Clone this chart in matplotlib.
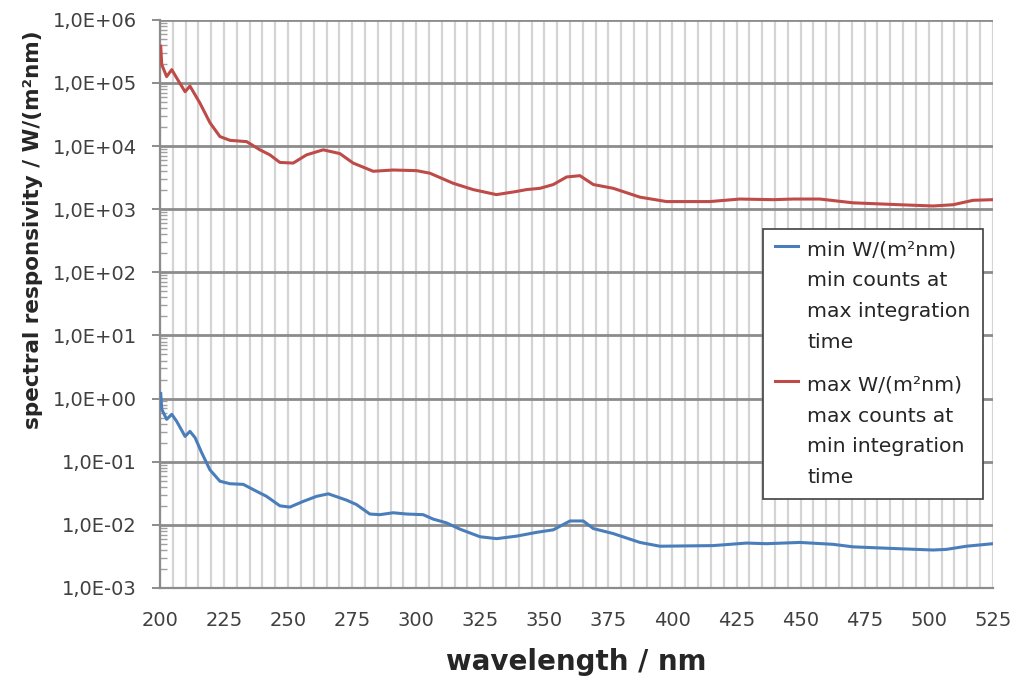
import numpy as np
import matplotlib
matplotlib.use("Agg")
import matplotlib.pyplot as plt
from matplotlib.ticker import FixedLocator, LogLocator, NullFormatter, FuncFormatter
from matplotlib.legend_handler import HandlerLine2D

# ---- data ----
wl_max = [200.3, 200.7, 202.6, 204.6, 206.5, 209.8, 211.7, 213.0, 215.6, 219.5,
          223.4, 227.3, 233.8, 239.0, 242.9, 246.8, 252.0, 257.2, 263.7, 270.2,
          275.4, 283.2, 291.0, 300.1, 305.3, 314.4, 322.2, 331.3, 339.1, 343.1,
          348.3, 353.5, 358.7, 363.9, 369.1, 376.9, 387.3, 397.7, 414.6, 426.3,
          439.3, 447.1, 457.5, 470.5, 488.7, 501.7, 509.5, 517.3, 525.0]
log_max = [5.58, 5.29, 5.10, 5.21, 5.08, 4.86, 4.95, 4.86, 4.68, 4.37,
           4.15, 4.09, 4.07, 3.94, 3.86, 3.74, 3.73, 3.86, 3.94, 3.88,
           3.73, 3.60, 3.62, 3.61, 3.57, 3.41, 3.31, 3.23, 3.28, 3.31,
           3.33, 3.39, 3.51, 3.53, 3.39, 3.33, 3.19, 3.12, 3.12, 3.16,
           3.15, 3.16, 3.16, 3.10, 3.07, 3.05, 3.07, 3.14, 3.15]

wl_min = [200.3, 200.7, 202.6, 204.6, 206.5, 209.8, 211.7, 213.7, 216.3, 219.5,
          223.4, 227.3, 232.5, 237.7, 241.6, 246.8, 250.7, 255.9, 261.1, 265.7,
          272.8, 276.7, 281.9, 285.8, 291.0, 296.3, 302.7, 306.6, 311.8, 317.1,
          324.9, 331.4, 339.2, 347.0, 353.5, 360.0, 365.2, 369.1, 376.9, 387.3,
          395.1, 415.9, 428.9, 436.7, 449.7, 462.7, 470.5, 488.7, 501.7, 506.9,
          514.7, 525.0]
log_min = [0.08, -0.17, -0.33, -0.25, -0.36, -0.60, -0.52, -0.62, -0.86, -1.13,
           -1.31, -1.35, -1.36, -1.47, -1.55, -1.70, -1.72, -1.63, -1.55, -1.51,
           -1.61, -1.68, -1.83, -1.84, -1.81, -1.83, -1.84, -1.91, -1.97, -2.07,
           -2.19, -2.22, -2.18, -2.12, -2.08, -1.94, -1.94, -2.06, -2.14, -2.28,
           -2.34, -2.33, -2.29, -2.30, -2.28, -2.31, -2.35, -2.38, -2.40, -2.39,
           -2.34, -2.30]

y_ticks = [1e-3, 1e-2, 1e-1, 1e0, 1e1, 1e2, 1e3, 1e4, 1e5, 1e6]
x_ticks = [200, 225, 250, 275, 300, 325, 350, 375, 400, 425, 450, 475, 500, 525]

label_min = "min W/(m\u00b2nm)\nmin counts at\nmax integration\ntime"
label_max = "max W/(m\u00b2nm)\nmax counts at\nmin integration\ntime"

LEG_FS = 14.7
LEG_LS = 1.78


class TopLineHandler(HandlerLine2D):
    """Legend line aligned with the first line of a multi-line label."""
    def __init__(self, shift, **kw):
        super().__init__(**kw)
        self.shift = shift

    def create_artists(self, legend, orig_handle, xdescent, ydescent, width,
                       height, fontsize, trans):
        arts = super().create_artists(legend, orig_handle, xdescent, ydescent,
                                      width, height, fontsize, trans)
        for a in arts:
            a.set_ydata(np.asarray(a.get_ydata(), dtype=float) + self.shift)
        return arts


# ---- figure ----
plt.rcParams['font.family'] = ['DejaVu Sans']
fig = plt.figure(figsize=(10.32, 6.82), dpi=100)
ax = fig.add_axes([0.155, 0.138, 0.807, 0.833])

l1, = ax.plot(wl_min, 10 ** np.array(log_min), color='#4a7ebb', lw=2.2, label=label_min, zorder=3)
l2, = ax.plot(wl_max, 10 ** np.array(log_max), color='#be4b48', lw=2.2, label=label_max, zorder=3)

ax.set_yscale('log')
ax.set_xlim(200, 525)
ax.set_ylim(1e-3, 1e6)

ax.yaxis.set_major_locator(FixedLocator(y_ticks))
ax.yaxis.set_minor_locator(LogLocator(base=10, subs=np.arange(2, 10), numticks=30))
ax.yaxis.set_minor_formatter(NullFormatter())

def fmt(v, pos):
    e = int(round(np.log10(v)))
    s = '+' if e >= 0 else '-'
    return "1,0E%s%02d" % (s, abs(e))
ax.yaxis.set_major_formatter(FuncFormatter(fmt))

ax.xaxis.set_major_locator(FixedLocator(x_ticks))
ax.xaxis.set_minor_locator(FixedLocator(np.arange(200, 526, 5)))

ax.grid(True, which='major', axis='y', color='#8c8c8c', lw=2.0, zorder=1)
ax.grid(True, which='both', axis='x', color='#d4d4d4', lw=1.6, zorder=0)

for s in ['top', 'right']:
    ax.spines[s].set_visible(False)
for s in ['left', 'bottom']:
    ax.spines[s].set_color('#8c8c8c')
    ax.spines[s].set_linewidth(1.6)

ax.yaxis.set_tick_params(which='major', direction='out', length=5.5, width=1.4,
                         color='#8c8c8c', labelsize=14, labelcolor='#404040', pad=11)
ax.yaxis.set_tick_params(which='minor', direction='in', length=5, width=1.0,
                         color='#a0a0a0')
ax.tick_params(axis='x', which='both', length=0, labelsize=14, labelcolor='#404040', pad=17)

ax.set_xlabel('wavelength / nm', fontsize=20, fontweight='bold', color='#262626')
ax.xaxis.set_label_coords(0.5, -0.1055)
ax.set_ylabel('spectral responsivity / W/(m\u00b2nm)', fontsize=15.5, fontweight='bold', color='#262626')
ax.yaxis.set_label_coords(-0.1405, 0.63)

pitch_pt = LEG_FS * LEG_LS * 0.93
shift = 1.5 * pitch_pt
leg = ax.legend(loc='upper left', bbox_to_anchor=(0.7239, 0.632), fontsize=LEG_FS,
                frameon=True, fancybox=False, edgecolor='#404040', framealpha=1,
                handlelength=1.15, handletextpad=0.45, borderpad=0.58, labelspacing=1.18,
                borderaxespad=0,
                handler_map={l1: TopLineHandler(shift), l2: TopLineHandler(shift)})
leg.get_frame().set_linewidth(1.2)
for t in leg.get_texts():
    t.set_color('#262626')
    t.set_linespacing(LEG_LS)

fig.savefig('out.png', dpi=100, facecolor='white')
